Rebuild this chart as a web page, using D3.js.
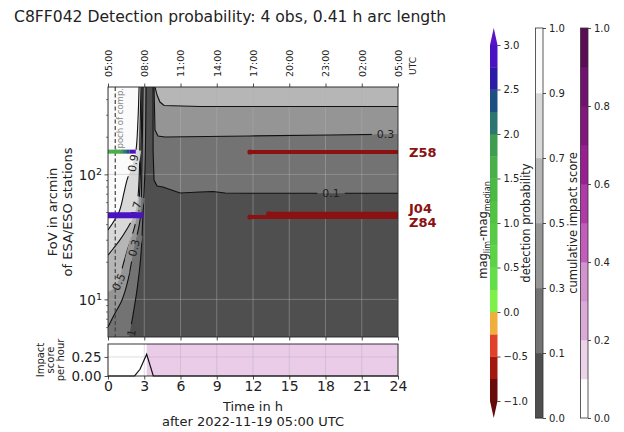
<!DOCTYPE html>
<html>
<head>
<meta charset="utf-8">
<script src="https://cdn.jsdelivr.net/npm/d3@7"></script>
<style>
  body { margin: 0; background: #fff; }
  svg text { font-family: "DejaVu Sans", sans-serif; fill: #222; }
</style>
</head>
<body>
<script>
// ---- values ----
const hourTicks = [0, 3, 6, 9, 12, 15, 18, 21, 24];
const utcLabels = ["05:00", "08:00", "11:00", "14:00", "17:00", "20:00", "23:00", "02:00", "05:00"];
const fovMajor = [10, 100];
const fovMinor = [6, 7, 8, 9, 20, 30, 40, 50, 60, 70, 80, 90, 200, 300, 400];

const probLevels = [0, 0.1, 0.3, 0.5, 0.7, 0.9, 1.0];
const probColors = ["#4f4f4f", "#737373", "#959595", "#b6b6b6", "#d9d9d9", "#fbfbfb"];

// contour lines, [hour, FoV arcmin]
const contourLevels = [0.1, 0.3, 0.5, 0.7, 0.9];
const left01 = [[3.15,500],[3.06,110],[2.9,49.1],[2.71,21.8],[2.4,11.9],[2.07,7.5],[1.74,5]];
const left03 = [[2.9,500],[2.81,130],[2.65,43.2],[2.15,25.8],[1.66,14.3],[1.16,9.9],[0.5,7.5],[0,6.0]];
const left05 = [[2.81,500],[2.73,157],[2.57,62.4],[2.24,39.4],[1.66,25.8],[1.24,18.8],[0.91,14.3],[0.5,12.3],[0,11.5]];
const left07 = [[2.73,500],[2.65,226],[2.57,90],[2.4,56.9],[2.07,44.8],[1.57,36.6],[0.99,29.9],[0.41,25.3],[0,22.6]];
const left09 = [[2.57,500],[2.48,272],[2.32,157],[2.07,123],[1.57,90],[1.32,71],[0.91,50],[0,35.9]];
const right01 = [[3.73,500],[3.73,157],[3.81,90],[4.06,80.7],[4.55,79.3],[5.96,71],[7.62,72.3],[8.69,72.9],[9.69,71],[11.75,70.6],[24,70.6]];
const right03 = [[3.81,500],[3.89,226],[4.14,203],[4.72,199],[11.75,203],[18.4,206.5],[24,210]];
const right05 = [[3.89,500],[4.06,431],[4.3,379],[4.64,356],[7.62,349],[24,349]];
const leftLines = [left01, left03, left05, left07, left09];
const rightLines = [right01, right03, right05, null, null];

// inline contour labels
const labelText  = ["0.9", "0.7", "0.3", "0.5", "0.1", "0.3", "0.1"];
const labelHour  = [2.07, 2.28, 2.15, 0.88, 1.86, 22.97, 18.46];
const labelFov   = [123, 51.9, 25.8, 13.8, 4.9, 210, 71];
const labelAngle = [-80, -74, -76, -66, -80, 0, 0];

const epochHour = 0.6;

// mag_lim - mag_median colour bar
const magBounds = [-1, -0.75, -0.5, -0.25, 0, 0.25, 0.5, 0.75, 1, 1.25, 1.5, 1.75, 2, 2.25, 2.5, 2.75, 3];
const magColors = ["#6a0c0c", "#a3180f", "#e0432a", "#f0ae3c", "#7ef04a", "#64de48", "#5cd346", "#57ca45",
                   "#52c244", "#4db945", "#49b049", "#3f9d52", "#2c7570", "#1f4f82", "#2a1aa6", "#4a12c2"];
const magUnder = "#650a0a", magOver = "#5a14c8";
const magTicks = [-1, -0.5, 0, 0.5, 1, 1.5, 2, 2.5, 3];

// cumulative impact colour bar
const impactBounds = [0, 0.1, 0.2, 0.3, 0.4, 0.5, 0.6, 0.7, 0.8, 0.9, 1.0];
const impactColors = ["#ffffff", "#edd3ea", "#dcaad8", "#d293ce", "#c35cba", "#b03aa8", "#9a1f92", "#84177e", "#721270", "#5c0c55"];
const impactTicks = [0, 0.2, 0.4, 0.6, 0.8, 1.0];

// own observations: [start h, end h, mag diff]
const obsFov = [152, 47];
const obsWidth = [4, 6];
const obsSegments = [
  [[0, 1.0, 1.6], [1.0, 1.25, 1.9], [1.25, 1.5, 2.1], [1.5, 1.8, 2.4], [1.8, 2.3, 2.9]],
  [[0, 2.9, 2.9]]
];

// ESA/ESO stations
const stations = ["Z58", "J04", "Z84"];
const stationFov = [151, 48.4, 45.6];
const stationStart = [11.75, 13.3, 11.75];
const stationEnd = [24, 24, 24];

// impact score per hour
const impactHours = [0, 2.2, 2.65, 3.2, 3.75, 24];
const impactPerHour = [0, 0, 0.088, 0.285, 0, 0];
const impactFrom = 3.2, cumulativeImpact = 0.27;

// ---- layout ----
const size = {width: 624, height: 432};
const plot = {left: 108, right: 398, top: 87, bottom: 337};
const low = {top: 344, bottom: 376};

const svg = d3.select("body").append("svg")
    .attr("width", size.width).attr("height", size.height);
const defs = svg.append("defs");

const x = d3.scaleLinear().domain([0, 24]).range([plot.left, plot.right]);
const y = d3.scaleLog().domain([5, 500]).range([plot.bottom, plot.top]);
const yi = d3.scaleLinear().domain([0, 0.42]).range([low.bottom, low.top]);
const probColor = d3.scaleThreshold().domain(probLevels.slice(1, -1)).range(probColors);
const magColor = d3.scaleThreshold().domain(magBounds).range([magUnder, ...magColors, magOver]);
const impactColor = d3.scaleThreshold().domain(impactBounds.slice(1, -1)).range(impactColors);

defs.append("clipPath").attr("id", "plotClip").append("rect")
    .attr("x", plot.left).attr("y", plot.top)
    .attr("width", plot.right - plot.left).attr("height", plot.bottom - plot.top);

const curveLine = d3.line().x(d => x(d[0])).y(d => y(d[1])).curve(d3.curveCatmullRom.alpha(0.5));
const straightLine = d3.line().x(d => x(d[0])).y(d => y(d[1]));

// title
svg.append("text").attr("x", 14).attr("y", 22).attr("font-size", 15.6)
    .text("C8FF042 Detection probability: 4 obs, 0.41 h arc length");

// ---- filled contours ----
const main = svg.append("g").attr("clip-path", "url(#plotClip)");
main.append("rect")
    .attr("x", plot.left).attr("y", plot.top)
    .attr("width", plot.right - plot.left).attr("height", plot.bottom - plot.top)
    .attr("fill", probColors[0]);

contourLevels.forEach((lv, i) => {
  const L = leftLines[i];
  const last = L[L.length - 1];
  const p = curveLine(L);
  main.append("path")
      .attr("d", `M${x(0)},${y(500)}L${p.slice(1)}L${x(0)},${y(last[1])}Z`)
      .attr("fill", probColor(lv));
  const R = rightLines[i];
  if (R) {
    main.append("path")
        .attr("d", straightLine([...R, [24, 500]]) + "Z")
        .attr("fill", probColor(lv));
  }
});

// grid
const grid = main.append("g").attr("stroke", "#b0b0b0").attr("stroke-opacity", 0.55).attr("stroke-width", 0.8);
hourTicks.forEach(h => grid.append("line").attr("x1", x(h)).attr("x2", x(h)).attr("y1", plot.top).attr("y2", plot.bottom));
fovMajor.forEach(f => grid.append("line").attr("x1", plot.left).attr("x2", plot.right).attr("y1", y(f)).attr("y2", y(f)));

// contour labels (drawn first so the mask can use their size)
const labelG = main.append("g");
const lblMask = defs.append("mask").attr("id", "lblMask").attr("maskUnits", "userSpaceOnUse")
    .attr("x", 0).attr("y", 0).attr("width", size.width).attr("height", size.height);
lblMask.append("rect").attr("width", size.width).attr("height", size.height).attr("fill", "white");
labelText.forEach((t, i) => {
  const px = x(labelHour[i]), py = y(labelFov[i]);
  const tx = labelG.append("text")
      .attr("transform", `translate(${px},${py}) rotate(${labelAngle[i]})`)
      .attr("text-anchor", "middle").attr("dy", "0.36em")
      .attr("font-size", 11).text(t);
  const w = tx.node().getComputedTextLength() + 10;
  lblMask.append("rect").attr("x", -w / 2).attr("y", -6).attr("width", w).attr("height", 12)
      .attr("transform", `translate(${px},${py}) rotate(${labelAngle[i]})`).attr("fill", "black");
});

const contourG = main.append("g").attr("mask", "url(#lblMask)")
    .attr("fill", "none").attr("stroke", "#111").attr("stroke-width", 1.1);
leftLines.forEach(L => contourG.append("path").attr("d", curveLine(L)));
rightLines.forEach(R => { if (R) contourG.append("path").attr("d", straightLine(R)); });

// epoch of computation
main.append("line").attr("x1", x(epochHour)).attr("x2", x(epochHour))
    .attr("y1", plot.top).attr("y2", plot.bottom)
    .attr("stroke", "#444").attr("stroke-width", 1.2).attr("stroke-dasharray", "4,2.5");
main.append("text")
    .attr("transform", `translate(${x(epochHour) + 5},${plot.top + 1}) rotate(-90)`)
    .attr("text-anchor", "end").attr("dominant-baseline", "central")
    .attr("font-size", 8.5).style("fill", "#888").text("Epoch of comp.");

// own observations coloured by magnitude
obsSegments.forEach((segs, k) => {
  segs.forEach(s => {
    main.append("line").attr("x1", x(s[0])).attr("x2", x(s[1]))
        .attr("y1", y(obsFov[k])).attr("y2", y(obsFov[k]))
        .attr("stroke", magColor(s[2])).attr("stroke-width", obsWidth[k]);
  });
});

// station coverage
const stationColor = "#8b1212";
stations.forEach((s, i) => {
  main.append("line").attr("x1", x(stationStart[i])).attr("x2", x(stationEnd[i]))
      .attr("y1", y(stationFov[i])).attr("y2", y(stationFov[i]))
      .attr("stroke", stationColor).attr("stroke-width", 4);
  main.append("circle").attr("cx", x(stationStart[i])).attr("cy", y(stationFov[i]))
      .attr("r", 2.6).attr("fill", stationColor);
});
// station names, pushed apart where they would overlap
const nameY = stationFov.map(f => y(f));
const order = d3.range(stations.length).sort((a, b) => nameY[a] - nameY[b]);
for (let k = 1; k < order.length; k++) {
  const a = order[k - 1], b = order[k];
  if (nameY[b] - nameY[a] < 14) {
    const mid = (nameY[a] + nameY[b]) / 2;
    nameY[a] = mid - 7; nameY[b] = mid + 7;
  }
}
stations.forEach((s, i) => {
  svg.append("text").attr("x", plot.right + 11).attr("y", nameY[i]).attr("dy", "0.36em")
      .attr("font-size", 13).attr("font-weight", "bold").style("fill", stationColor).text(s);
});

// frame
svg.append("rect").attr("x", plot.left).attr("y", plot.top)
    .attr("width", plot.right - plot.left).attr("height", plot.bottom - plot.top)
    .attr("fill", "none").attr("stroke", "#222").attr("stroke-width", 0.9);

function styleAxis(g, fs) {
  g.select(".domain").remove();
  g.selectAll(".tick line").attr("stroke", "#222").attr("stroke-width", 0.8);
  g.selectAll(".tick text").attr("font-size", fs);
}

// top UTC axis
const topAxis = svg.append("g").attr("transform", `translate(0,${plot.top})`)
    .call(d3.axisTop(x).tickValues(hourTicks).tickSize(3.5).tickFormat((d, i) => utcLabels[i]));
styleAxis(topAxis, 9.5);
topAxis.selectAll(".tick text").attr("transform", "rotate(-90)")
    .attr("x", 10).attr("y", 0).attr("dy", "0.35em").attr("text-anchor", "start");
svg.append("text").attr("transform", `translate(${plot.right + 15},66) rotate(-90)`)
    .attr("text-anchor", "middle").attr("dy", "0.35em").attr("font-size", 9).text("UTC");

// bottom ticks of the main panel, no labels
const botAxis = svg.append("g").attr("transform", `translate(0,${plot.bottom})`)
    .call(d3.axisBottom(x).tickValues(hourTicks).tickSize(3.5).tickFormat(""));
styleAxis(botAxis, 10);

// log FoV axis
const yMaj = svg.append("g").attr("transform", `translate(${plot.left},0)`)
    .call(d3.axisLeft(y).tickValues(fovMajor).tickSize(3.5).tickFormat(""));
styleAxis(yMaj, 13);
yMaj.selectAll(".tick").append("text")
    .attr("x", -6).attr("dy", "0.36em").attr("text-anchor", "end").attr("font-size", 13.5)
    .each(function(d) {
      const t = d3.select(this);
      t.append("tspan").text("10");
      t.append("tspan").attr("font-size", 9.5).attr("dy", "-0.55em").text(Math.round(Math.log10(d)));
    });
const yMin = svg.append("g").attr("transform", `translate(${plot.left},0)`)
    .call(d3.axisLeft(y).tickValues(fovMinor).tickSize(2).tickFormat(""));
styleAxis(yMin, 10);
yMin.selectAll(".tick line").attr("stroke-width", 0.6);

const yl = svg.append("text").attr("transform", `translate(0,${(plot.top + plot.bottom) / 2}) rotate(-90)`)
    .attr("text-anchor", "middle").attr("font-size", 13);
yl.append("tspan").attr("x", 0).attr("y", 57).text("FoV in arcmin");
yl.append("tspan").attr("x", 0).attr("y", 72).text("of ESA/ESO stations");

// ---- impact panel ----
svg.append("rect").attr("x", plot.left).attr("y", low.top)
    .attr("width", plot.right - plot.left).attr("height", low.bottom - low.top).attr("fill", "#fff");
svg.append("rect").attr("x", x(impactFrom)).attr("y", low.top)
    .attr("width", x(24) - x(impactFrom)).attr("height", low.bottom - low.top)
    .attr("fill", impactColor(cumulativeImpact)).attr("fill-opacity", 0.6);
const g2 = svg.append("g").attr("stroke", "#b0b0b0").attr("stroke-opacity", 0.55).attr("stroke-width", 0.8);
hourTicks.forEach(h => g2.append("line").attr("x1", x(h)).attr("x2", x(h)).attr("y1", low.top).attr("y2", low.bottom));
[0.25].forEach(v => g2.append("line").attr("x1", plot.left).attr("x2", plot.right).attr("y1", yi(v)).attr("y2", yi(v)));
svg.append("path")
    .attr("d", d3.line().x((d, i) => x(impactHours[i])).y(d => yi(d))(impactPerHour))
    .attr("fill", "none").attr("stroke", "#111").attr("stroke-width", 1.2);
svg.append("rect").attr("x", plot.left).attr("y", low.top)
    .attr("width", plot.right - plot.left).attr("height", low.bottom - low.top)
    .attr("fill", "none").attr("stroke", "#222").attr("stroke-width", 0.9);

const ax2 = svg.append("g").attr("transform", `translate(0,${low.bottom})`)
    .call(d3.axisBottom(x).tickValues(hourTicks).tickSize(3.5).tickFormat(d3.format("d")));
styleAxis(ax2, 14);
ax2.selectAll(".tick text").attr("y", 5).attr("dy", "0.71em");
const ay2 = svg.append("g").attr("transform", `translate(${plot.left},0)`)
    .call(d3.axisLeft(yi).tickValues([0, 0.25]).tickSize(3.5).tickFormat(d3.format(".2f")));
styleAxis(ay2, 13.5);

const il = svg.append("text").attr("transform", `translate(0,${(low.top + low.bottom) / 2}) rotate(-90)`)
    .attr("text-anchor", "middle").attr("font-size", 10);
["Impact", "score", "per hour"].forEach((s, i) => il.append("tspan").attr("x", 0).attr("y", 44 + i * 10).text(s));

svg.append("text").attr("x", (plot.left + plot.right) / 2).attr("y", 411)
    .attr("text-anchor", "middle").attr("font-size", 13).text("Time in h");
svg.append("text").attr("x", (plot.left + plot.right) / 2).attr("y", 426)
    .attr("text-anchor", "middle").attr("font-size", 13).text("after 2022-11-19 05:00 UTC");

// ---- colour bars ----
const cbTop = 28, cbBot = 418, cbW = 7.5;

// 1: mag difference, with extension triangles
const cb1x = 490;
const yMag = d3.scaleLinear().domain([-1, 3]).range([401, 45]);
magColors.forEach((c, i) => {
  svg.append("rect").attr("x", cb1x).attr("y", yMag(magBounds[i + 1]))
      .attr("width", cbW).attr("height", yMag(magBounds[i]) - yMag(magBounds[i + 1]) + 0.3).attr("fill", c);
});
svg.append("path").attr("d", `M${cb1x},${yMag(3)}L${cb1x + cbW},${yMag(3)}L${cb1x + cbW / 2},${cbTop}Z`).attr("fill", magOver);
svg.append("path").attr("d", `M${cb1x},${yMag(-1)}L${cb1x + cbW},${yMag(-1)}L${cb1x + cbW / 2},${cbBot}Z`).attr("fill", magUnder);
const a1 = svg.append("g").attr("transform", `translate(${cb1x + cbW},0)`)
    .call(d3.axisRight(yMag).tickValues(magTicks).tickSize(3).tickFormat(d3.format(".1f")));
styleAxis(a1, 10);
const ml = svg.append("text").attr("transform", `translate(487,230) rotate(-90)`)
    .attr("text-anchor", "middle").attr("font-size", 11.5);
ml.append("tspan").text("mag");
ml.append("tspan").attr("font-size", 8).attr("dy", 3).text("lim");
ml.append("tspan").attr("dy", -3).text("-mag");
ml.append("tspan").attr("font-size", 8).attr("dy", 3).text("median");

// 2: detection probability, equal-height bands
const cb2x = 535.5;
const yProb = d3.scaleLinear().domain([0, probLevels.length - 1]).range([cbBot, cbTop]);
probColors.forEach((c, i) => {
  svg.append("rect").attr("x", cb2x).attr("y", yProb(i + 1))
      .attr("width", cbW).attr("height", yProb(i) - yProb(i + 1) + 0.3).attr("fill", c);
});
svg.append("rect").attr("x", cb2x).attr("y", cbTop).attr("width", cbW).attr("height", cbBot - cbTop)
    .attr("fill", "none").attr("stroke", "#333").attr("stroke-width", 0.8);
const a2 = svg.append("g").attr("transform", `translate(${cb2x + cbW},0)`)
    .call(d3.axisRight(yProb).tickValues(d3.range(probLevels.length)).tickSize(3)
      .tickFormat(i => d3.format(".1f")(probLevels[i])));
styleAxis(a2, 10);
svg.append("text").attr("transform", `translate(530,223) rotate(-90)`)
    .attr("text-anchor", "middle").attr("font-size", 11.5).text("detection probability");

// 3: cumulative impact score
const cb3x = 580.5;
const yImp = d3.scaleLinear().domain([0, 1]).range([cbBot, cbTop]);
impactColors.forEach((c, i) => {
  svg.append("rect").attr("x", cb3x).attr("y", yImp(impactBounds[i + 1]))
      .attr("width", cbW).attr("height", yImp(impactBounds[i]) - yImp(impactBounds[i + 1]) + 0.3).attr("fill", c);
});
svg.append("rect").attr("x", cb3x).attr("y", cbTop).attr("width", cbW).attr("height", cbBot - cbTop)
    .attr("fill", "none").attr("stroke", "#333").attr("stroke-width", 0.8);
const a3 = svg.append("g").attr("transform", `translate(${cb3x + cbW},0)`)
    .call(d3.axisRight(yImp).tickValues(impactTicks).tickSize(3).tickFormat(d3.format(".1f")));
styleAxis(a3, 10);
svg.append("text").attr("transform", `translate(577,223) rotate(-90)`)
    .attr("text-anchor", "middle").attr("font-size", 11.5).text("cumulative impact score");
</script>
</body>
</html>
